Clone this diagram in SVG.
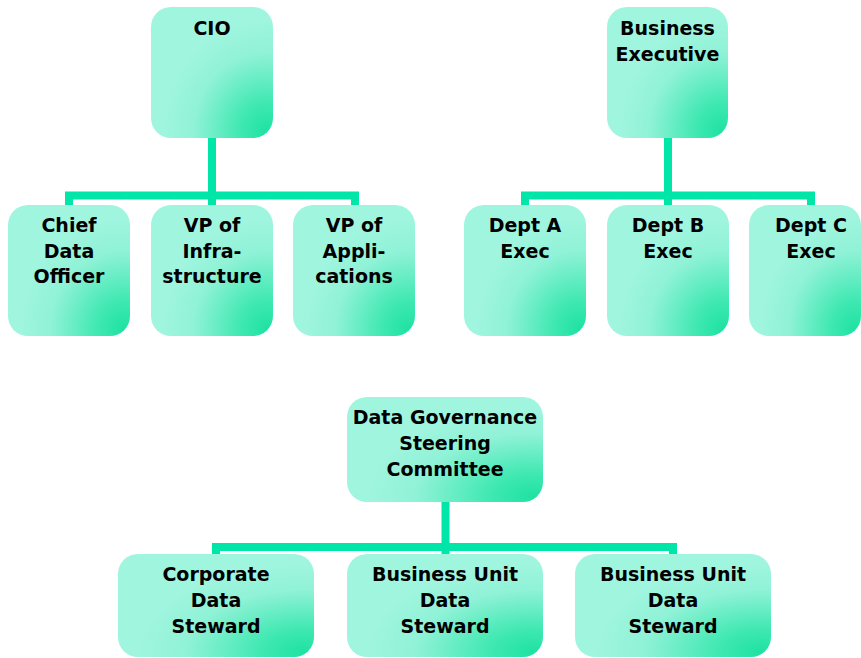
<svg xmlns="http://www.w3.org/2000/svg" width="861" height="658" viewBox="0 0 861 658">
  <defs>
    <radialGradient id="g" cx="0.95" cy="0.95" r="0.85" fx="0.95" fy="0.95">
      <stop offset="0" stop-color="#1fe2a2"/>
      <stop offset="0.25" stop-color="#3ee8b1"/>
      <stop offset="0.7" stop-color="#8ff2d6"/>
      <stop offset="1" stop-color="#a0f5df"/>
    </radialGradient>
    <style>
      .box { fill: url(#g); }
      .t { font-family: "DejaVu Sans", Verdana, sans-serif; font-weight: bold; font-size: 19px; fill: #000; text-anchor: middle; }
      .c { fill: none; stroke: #00e6a8; stroke-width: 8; stroke-linecap: butt; stroke-linejoin: miter; }
    </style>
  </defs>
  <rect width="861" height="658" fill="#fff"/>

  <g id="connectors">
    <path class="c" d="M212,137 V206 M69,206 V195.5 H355 V206"/>
    <path class="c" d="M668,137 V206 M525,206 V195.5 H811 V206"/>
    <path class="c" d="M445.5,501 V555 M216,555 V547 H673 V555"/>
  </g>

  <g id="cio">
    <rect class="box" x="151" y="7" width="122" height="131" rx="20"/>
    <text class="t" x="212" y="34.5">CIO</text>
  </g>
  <g id="business-executive">
    <rect class="box" x="607" y="7" width="121" height="131" rx="20"/>
    <text class="t" x="667.5" y="35">Business</text>
    <text class="t" x="667.5" y="60.5">Executive</text>
  </g>

  <g id="chief-data-officer">
    <rect class="box" x="8" y="205" width="122" height="131" rx="20"/>
    <text class="t" x="69" y="231.5">Chief</text>
    <text class="t" x="69" y="257.5">Data</text>
    <text class="t" x="69" y="283">Officer</text>
  </g>
  <g id="vp-infrastructure">
    <rect class="box" x="151" y="205" width="122" height="131" rx="20"/>
    <text class="t" x="212" y="231.5">VP of</text>
    <text class="t" x="212" y="257.5">Infra-</text>
    <text class="t" x="212" y="283">structure</text>
  </g>
  <g id="vp-applications">
    <rect class="box" x="293" y="205" width="122" height="131" rx="20"/>
    <text class="t" x="354" y="231.5">VP of</text>
    <text class="t" x="354" y="257.5">Appli-</text>
    <text class="t" x="354" y="283">cations</text>
  </g>

  <g id="dept-a">
    <rect class="box" x="464" y="205" width="122" height="131" rx="20"/>
    <text class="t" x="525" y="231.5">Dept A</text>
    <text class="t" x="525" y="257.5">Exec</text>
  </g>
  <g id="dept-b">
    <rect class="box" x="607" y="205" width="122" height="131" rx="20"/>
    <text class="t" x="668" y="231.5">Dept B</text>
    <text class="t" x="668" y="257.5">Exec</text>
  </g>
  <g id="dept-c">
    <rect class="box" x="749" y="205" width="112" height="131" rx="20"/>
    <text class="t" x="811" y="231.5">Dept C</text>
    <text class="t" x="811" y="257.5">Exec</text>
  </g>

  <g id="dg-steering">
    <rect class="box" x="347" y="397" width="196" height="105" rx="20"/>
    <text class="t" x="445" y="424">Data Governance</text>
    <text class="t" x="445" y="450">Steering</text>
    <text class="t" x="445" y="476">Committee</text>
  </g>

  <g id="corporate-steward">
    <rect class="box" x="118" y="554" width="196" height="103" rx="20"/>
    <text class="t" x="216" y="581">Corporate</text>
    <text class="t" x="216" y="607">Data</text>
    <text class="t" x="216" y="632.5">Steward</text>
  </g>
  <g id="bu-steward-1">
    <rect class="box" x="347" y="554" width="196" height="103" rx="20"/>
    <text class="t" x="445" y="581">Business Unit</text>
    <text class="t" x="445" y="607">Data</text>
    <text class="t" x="445" y="632.5">Steward</text>
  </g>
  <g id="bu-steward-2">
    <rect class="box" x="575" y="554" width="196" height="103" rx="20"/>
    <text class="t" x="673" y="581">Business Unit</text>
    <text class="t" x="673" y="607">Data</text>
    <text class="t" x="673" y="632.5">Steward</text>
  </g>
</svg>
